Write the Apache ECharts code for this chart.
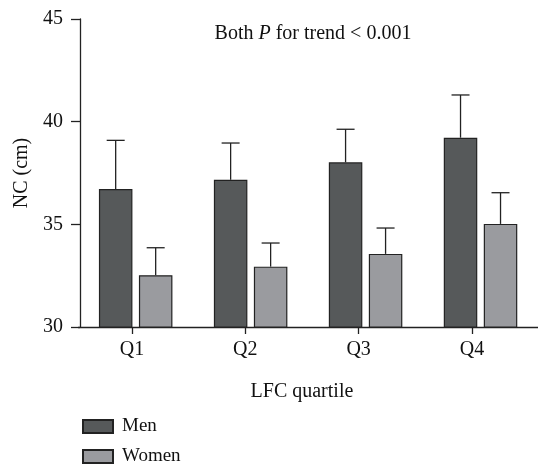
<!DOCTYPE html>
<html><head><meta charset="utf-8">
<script src="https://cdn.jsdelivr.net/npm/echarts@6/dist/echarts.min.js"></script>
<style>html,body{margin:0;padding:0;background:#fff}#c{width:538px;height:464px}</style>
</head><body><div id="c"></div>
<script>
const categories = ['Q1', 'Q2', 'Q3', 'Q4'];
const menMean = [36.72, 37.17, 38.02, 39.22];
const menUpper = [39.09, 38.96, 39.63, 41.30];
const womenMean = [32.52, 32.94, 33.56, 35.02];
const womenUpper = [33.86, 34.09, 34.82, 36.54];
const yTicks = [30, 35, 40, 45];

const FONT = '"Liberation Serif", "DejaVu Serif", serif';
const AX = '#222';
const BW = 33.5, GAP = 6.5;

function errSeries(name, upper, mean, sign) {
  return {
    type: 'custom', name: name + ' err', xAxisIndex: 0, yAxisIndex: 0, z: 3,
    silent: true,
    data: upper.map((u, i) => [i, mean[i], u]),
    renderItem: function (params, api) {
      const base = api.coord([api.value(0), api.value(1)]);
      const top = api.coord([api.value(0), api.value(2)]);
      const x = base[0] + sign * (BW + GAP) / 2;
      const st = { stroke: AX, lineWidth: 1.3 };
      return { type: 'group', children: [
        { type: 'line', shape: { x1: x, y1: base[1], x2: x, y2: top[1] }, style: st },
        { type: 'line', shape: { x1: x - 9, y1: top[1], x2: x + 9, y2: top[1] }, style: st }
      ]};
    }
  };
}

function legendFor(name, top) {
  return {
    left: 77, top: top, itemWidth: 30, itemHeight: 13,
    icon: 'rect', data: [name], selectedMode: false,
    textStyle: { fontFamily: FONT, fontSize: 19, color: '#111', padding: [0, 0, 0, 4] }
  };
}

const chart = echarts.init(document.getElementById('c'), null, { renderer: 'canvas' });
chart.setOption({
  animation: false,
  backgroundColor: '#fff',
  title: {
    text: '{a|Both }{i|P}{a| for trend < 0.001}',
    left: 308, top: 19, textAlign: 'center',
    textStyle: { fontWeight: 'normal', rich: {
      a: { fontFamily: FONT, fontSize: 20, color: '#111', fontWeight: 'normal' },
      i: { fontFamily: FONT, fontSize: 20, color: '#111', fontStyle: 'italic', fontWeight: 'normal' }
    }}
  },
  legend: [legendFor('Men', 412), legendFor('Women', 442)],
  grid: [
    { left: 78.2, width: 466.4, top: 19, bottom: 137, containLabel: false },
    { left: 75.3, width: 453.3, top: 19, bottom: 137, containLabel: false }
  ],
  xAxis: [
    { type: 'category', gridIndex: 0, data: categories,
      axisLine: { lineStyle: { color: AX, width: 1.3 } },
      axisTick: { show: false }, axisLabel: { show: false } },
    { type: 'category', gridIndex: 1, data: categories, position: 'bottom',
      axisLine: { show: false },
      axisTick: { show: true, alignWithLabel: true, length: 7, lineStyle: { color: AX, width: 1.3 } },
      axisLabel: { fontFamily: FONT, fontSize: 20, color: '#111', margin: 13 },
      name: 'LFC quartile', nameLocation: 'middle', nameGap: 55,
      nameTextStyle: { fontFamily: FONT, fontSize: 20, color: '#111' } }
  ],
  yAxis: [
    { type: 'value', gridIndex: 0, min: yTicks[0], max: yTicks[yTicks.length - 1], interval: 5,
      offset: -1.8,
      axisLine: { show: true, lineStyle: { color: AX, width: 1.3 } },
      axisTick: { show: true, length: 9, lineStyle: { color: AX, width: 1.3 } },
      splitLine: { show: false },
      axisLabel: { fontFamily: FONT, fontSize: 20, color: '#111', margin: 17 },
      name: 'NC (cm)', nameLocation: 'middle', nameGap: 47, nameRotate: 90,
      nameTextStyle: { fontFamily: FONT, fontSize: 20, color: '#111' } },
    { type: 'value', gridIndex: 1, min: 30, max: 45, show: false }
  ],
  series: [
    { type: 'bar', name: 'Men', data: menMean, barWidth: BW, barGap: (GAP / BW * 100) + '%',
      xAxisIndex: 0, yAxisIndex: 0,
      itemStyle: { color: '#56595a', borderColor: '#222', borderWidth: 1.2 } },
    { type: 'bar', name: 'Women', data: womenMean, barWidth: BW,
      xAxisIndex: 0, yAxisIndex: 0,
      itemStyle: { color: '#9a9b9f', borderColor: '#222', borderWidth: 1.2 } },
    errSeries('Men', menUpper, menMean, -1),
    errSeries('Women', womenUpper, womenMean, 1)
  ]
});
</script></body></html>
